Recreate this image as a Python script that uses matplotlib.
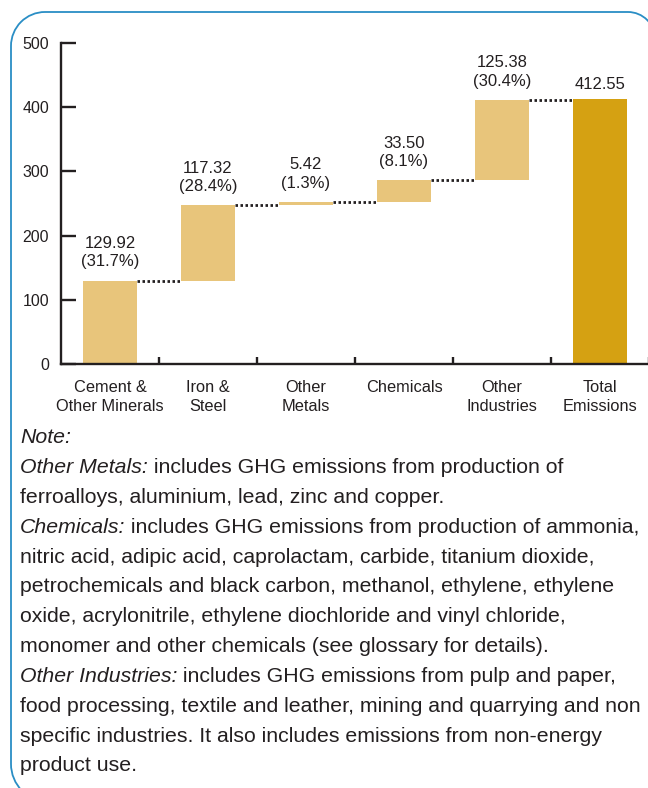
import numpy as np
import matplotlib
matplotlib.use("Agg")
import matplotlib.pyplot as plt
from matplotlib.patches import PathPatch
from matplotlib.path import Path
from matplotlib.transforms import IdentityTransform, Affine2D
from matplotlib.text import Annotation

# --- data -------------------------------------------------------------
categories = ["Cement &\nOther Minerals", "Iron &\nSteel", "Other\nMetals",
              "Chemicals", "Other\nIndustries", "Total\nEmissions"]
values = [129.92, 117.32, 5.42, 33.50, 125.38]
shares = ["31.7%", "28.4%", "1.3%", "8.1%", "30.4%"]
total = 412.55
y_ticks = [0, 100, 200, 300, 400, 500]

note_lines = [
    ("Note:", ""),
    ("Other Metals:", " includes GHG emissions from production of"),
    ("", "ferroalloys, aluminium, lead, zinc and copper."),
    ("Chemicals:", " includes GHG emissions from production of ammonia,"),
    ("", "nitric acid, adipic acid, caprolactam, carbide, titanium dioxide,"),
    ("", "petrochemicals and black carbon, methanol, ethylene, ethylene"),
    ("", "oxide, acrylonitrile, ethylene diochloride and vinyl chloride,"),
    ("", "monomer and other chemicals (see glossary for details)."),
    ("Other Industries:", " includes GHG emissions from pulp and paper,"),
    ("", "food processing, textile and leather, mining and quarrying and non"),
    ("", "specific industries. It also includes emissions from non-energy"),
    ("", "product use."),
]

# --- style ------------------------------------------------------------
plt.rcParams["font.family"] = ["Liberation Sans", "DejaVu Sans"]
INK = "#231F20"
BAR_LIGHT = "#E8C57B"
BAR_TOTAL = "#D5A112"
FRAME = "#2A8EC5"

W, H = 648, 788
fig = plt.figure(figsize=(W / 100, H / 100), dpi=100)


def arc_piece(cx, cy, r, a0, a1):
    """Cubic-Bezier arc in pixel space (degrees, counter-clockwise)."""
    if a1 < a0:
        p = Path.arc(a1, a0)
        verts = p.vertices[::-1]
    else:
        verts = Path.arc(a0, a1).vertices
    verts = Affine2D().scale(r).translate(cx, cy).transform(verts)
    codes = [Path.LINETO] + [Path.CURVE4] * (len(verts) - 1)
    return list(map(tuple, verts)), codes


# open outline of the panel: top-right corner, top edge, top-left corner,
# left edge, bottom-left corner (right and bottom edges run off canvas)
left, top, bottom = 11, H - 12, -14
r_tr, r_tl, r_bl = 27, 34, 38
verts, codes = [], []
for seg in (arc_piece(628 - 0, top - r_tr, r_tr, 0, 90),
            arc_piece(left + r_tl, top - r_tl, r_tl, 90, 180),
            arc_piece(left + r_bl, bottom + r_bl, r_bl, 180, 270)):
    v, c = seg
    verts += v
    codes += c
codes[0] = Path.MOVETO
frame = PathPatch(Path(verts, codes), fill=False, ec=FRAME, lw=1.3,
                  transform=IdentityTransform(), clip_on=False)
fig.add_artist(frame)

# --- waterfall chart --------------------------------------------------
ax = fig.add_axes([61 / W, (H - 364) / H, 588 / W, 321 / H])
x = np.arange(len(categories))
bar_w = 0.56
vals = np.array(values)
bottoms = np.concatenate([[0], np.cumsum(vals)[:-1]])
tops = bottoms + vals

ax.bar(x[:-1], vals, bottom=bottoms, width=bar_w, color=BAR_LIGHT, zorder=2)
ax.bar(x[-1], total, width=bar_w, color=BAR_TOTAL, zorder=2)

# dotted connectors between consecutive bars
for i in range(len(vals)):
    ax.plot([x[i] + bar_w / 2, x[i + 1] - bar_w / 2], [tops[i], tops[i]],
            color=INK, lw=2.0, linestyle=(0, (0.9, 0.9)), zorder=3)

# value labels
for i, (v, s) in enumerate(zip(vals, shares)):
    ax.annotate(f"{v:.2f}\n({s})", xy=(x[i], tops[i]), xytext=(0, 8),
                textcoords="offset points", ha="center", va="bottom",
                fontsize=12, color=INK, linespacing=1.3)
ax.annotate(f"{total:.2f}", xy=(x[-1], total), xytext=(0, 5),
            textcoords="offset points", ha="center", va="bottom",
            fontsize=12, color=INK)

ax.set_xlim(-0.5, len(categories) - 0.5)
ax.set_ylim(0, 500)
ax.set_yticks(y_ticks)
ax.set_xticks(x)
ax.set_xticklabels(categories, fontsize=11.8, color=INK, linespacing=1.3)
ax.set_xticks(np.arange(len(categories)) + 0.5, minor=True)
ax.tick_params(axis="x", which="major", length=0, pad=11.5)
ax.tick_params(axis="x", which="minor", direction="in", length=5,
               width=1.7, color=INK)
ax.tick_params(axis="y", direction="in", length=10.8, width=1.7,
               color=INK, labelsize=11.5, labelcolor=INK, pad=8.5)

for side in ("top", "right"):
    ax.spines[side].set_visible(False)
for side in ("left", "bottom"):
    ax.spines[side].set_linewidth(1.7)
    ax.spines[side].set_color(INK)

# --- note block -------------------------------------------------------
note_x = 20 / W
note_fs = 15.3
first_y, step = 438, 29.8
for k, (lead, rest) in enumerate(note_lines):
    yy = 1 - (first_y + k * step) / H
    if lead:
        t = fig.text(note_x, yy, lead, style="italic", fontsize=note_fs,
                     color=INK, ha="left", va="center")
        if rest:
            fig.add_artist(Annotation(
                rest, xy=(1, 0.5), xycoords=t, ha="left", va="center",
                fontsize=note_fs, color=INK))
    else:
        fig.text(note_x, yy, rest, fontsize=note_fs, color=INK,
                 ha="left", va="center")

fig.savefig("out.png", dpi=100)
